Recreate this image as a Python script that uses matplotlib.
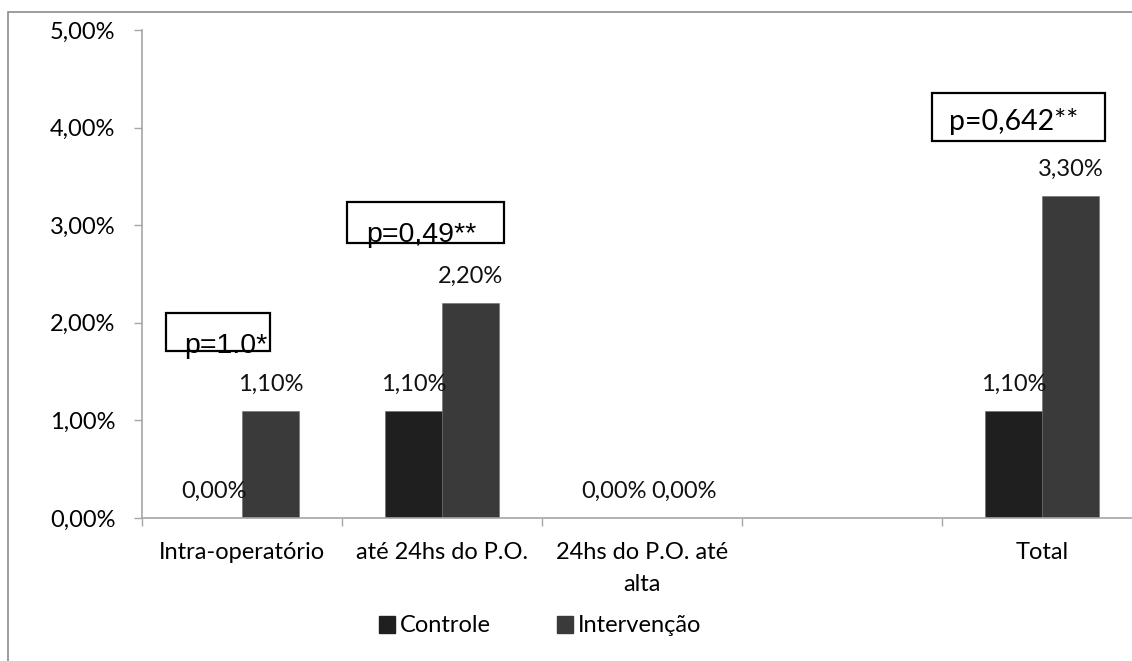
import matplotlib
matplotlib.use("Agg")
import matplotlib.pyplot as plt
from matplotlib.patches import Rectangle
import numpy as np

# Categories and series (percent values)
categories = ["Intra-operatório", "até 24hs do P.O.", "24hs do P.O. até\nalta", "", "Total"]
controle = [0.0, 1.1, 0.0, None, 1.1]
intervencao = [1.1, 2.2, 0.0, None, 3.3]
series_names = ["Controle", "Intervenção"]
yticks = [0, 1, 2, 3, 4, 5]

# p-value callouts
p_texts = ["p=1.0*", "p=0,49**", "p=0,642**"]
# box (x0, x1, y0, y1) in data units, text anchor (x, baseline y), font family
p_layout = [
    ((-0.38, 0.14, 1.71, 2.10), (-0.08, 1.69), "Liberation Sans"),
    ((0.525, 1.31, 2.82, 3.24), (0.895, 2.83), "Liberation Sans"),
    ((3.45, 4.315, 3.86, 4.35), (3.86, 3.975), "Lato"),
]

C_CTRL = "#1f1f1f"
C_INT = "#3a3a3a"
AXIS_GRAY = "#a6a6a6"
FS = 17

plt.rcParams["font.family"] = ["Lato", "DejaVu Sans"]

W, H = 1132, 661
fig = plt.figure(figsize=(W / 100, H / 100), dpi=100)
ax = fig.add_axes([142 / W, (H - 518) / H, 1000 / W, 488 / H])

# outer chart frame
fig.patches.append(Rectangle((8 / W, -0.05), 1.2, 1 - 12 / H + 0.05,
                             transform=fig.transFigure, fill=False,
                             edgecolor="#8c8c8c", linewidth=1.2))

x = np.arange(len(categories))
bw = 0.285


def fmt(v):
    return f"{v:.2f}%".replace(".", ",")


for i in range(len(categories)):
    c, v = controle[i], intervencao[i]
    if c is None:
        continue
    # two zero labels side by side would collide, push the second one right
    nudge = 10 if (c == 0 and v == 0) else 0
    for val, off, col, dx in ((c, -bw / 2, C_CTRL, 0), (v, bw / 2, C_INT, nudge)):
        ax.bar(x[i] + off, val, width=bw, color=col, edgecolor="#6a6a6a", linewidth=0.4)
        ax.annotate(fmt(val), (x[i] + off, val), xytext=(dx, 14.4), textcoords="offset points",
                    ha="center", va="baseline", fontsize=FS, color="#111111")

ax.set_xlim(-0.5, len(categories) - 0.5)
ax.set_ylim(0, 5)
ax.set_yticks(yticks)
ax.set_yticklabels([fmt(t) for t in yticks], fontsize=FS)
ax.tick_params(axis="y", length=6, width=1, color=AXIS_GRAY, pad=13)

ax.set_xticks(x)
ax.set_xticklabels(categories, fontsize=FS, linespacing=1.65)
ax.tick_params(axis="x", which="major", length=0, pad=17)
ax.set_xticks(np.arange(-0.5, len(categories)), minor=True)
ax.tick_params(axis="x", which="minor", length=6, width=1, color=AXIS_GRAY)

for side in ("top", "right"):
    ax.spines[side].set_visible(False)
for side in ("left", "bottom"):
    ax.spines[side].set_color(AXIS_GRAY)
    ax.spines[side].set_linewidth(1.2)

# p-value boxes; text is clipped to its box
for txt, (box, (tx, ty), fam) in zip(p_texts, p_layout):
    x0, x1, y0, y1 = box
    rect = Rectangle((x0, y0), x1 - x0, y1 - y0, fill=False, edgecolor="black",
                     linewidth=1.6, zorder=5)
    ax.add_patch(rect)
    t = ax.text(tx, ty, txt, ha="center", va="baseline", fontsize=20.5,
                family=fam, color="black", zorder=6)
    clip = Rectangle((x0, y0), x1 - x0, y1 - y0, transform=ax.transData)
    t.set_clip_path(clip)

handles = [Rectangle((0, 0), 1, 1, color=C_CTRL), Rectangle((0, 0), 1, 1, color=C_INT)]
fig.legend(handles, series_names, loc="center", bbox_to_anchor=(540 / W, 1 - 626 / H),
           ncol=2, frameon=False, fontsize=FS, handlelength=0.7, handleheight=0.7,
           handletextpad=0.2, columnspacing=2.8)

fig.savefig("out.png", dpi=100)
